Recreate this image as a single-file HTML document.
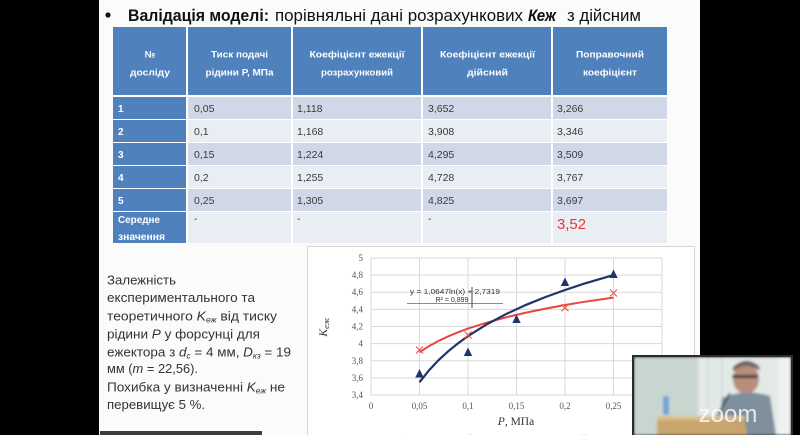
<!DOCTYPE html>
<html><head><meta charset="utf-8"><style>
html,body{margin:0;padding:0;background:#000;}
svg{display:block;}
</style></head><body>
<svg width="800" height="435" viewBox="0 0 800 435" xmlns="http://www.w3.org/2000/svg">
<defs>
<filter id="bl" x="-5%" y="-5%" width="110%" height="110%"><feGaussianBlur stdDeviation="1.2"/></filter>
<filter id="bl2"><feGaussianBlur stdDeviation="0.35"/></filter>
</defs>
<rect x="0" y="0" width="800" height="435" fill="#000"/>
<rect x="99" y="0" width="601" height="435" fill="#fbfbfb"/>

<!-- Title -->
<circle cx="108" cy="15" r="2.6" fill="#111"/>
<g font-family="Liberation Sans, sans-serif" font-size="16.5" fill="#111">
<text x="128" y="21" font-weight="bold" textLength="141" lengthAdjust="spacingAndGlyphs">Валідація моделі:</text>
<text x="275" y="21" textLength="248" lengthAdjust="spacingAndGlyphs">порівняльні дані розрахункових</text>
<text x="528" y="21" font-weight="bold" font-style="italic" textLength="28" lengthAdjust="spacingAndGlyphs">Кеж</text>
<text x="567" y="21" textLength="74" lengthAdjust="spacingAndGlyphs">з дійсним</text>
</g>

<!-- Table -->
<g filter="url(#bl2)">
<rect x="113" y="27" width="554" height="216" fill="#fff"/>
<rect x="113" y="27" width="73" height="68" fill="#4f81bd"/>
<rect x="188" y="27" width="103" height="68" fill="#4f81bd"/>
<rect x="293" y="27" width="128" height="68" fill="#4f81bd"/>
<rect x="423" y="27" width="128" height="68" fill="#4f81bd"/>
<rect x="553" y="27" width="114" height="68" fill="#4f81bd"/>
<rect x="113" y="97" width="73" height="22" fill="#4f81bd"/>
<rect x="113" y="120" width="73" height="22" fill="#4f81bd"/>
<rect x="113" y="143" width="73" height="22" fill="#4f81bd"/>
<rect x="113" y="166" width="73" height="22" fill="#4f81bd"/>
<rect x="113" y="189" width="73" height="22" fill="#4f81bd"/>
<rect x="113" y="212" width="73" height="31" fill="#4f81bd"/>
<g fill="#d0d8e8">
<rect x="188" y="97" width="103" height="22"/><rect x="293" y="97" width="128" height="22"/><rect x="423" y="97" width="128" height="22"/><rect x="553" y="97" width="114" height="22"/>
<rect x="188" y="143" width="103" height="22"/><rect x="293" y="143" width="128" height="22"/><rect x="423" y="143" width="128" height="22"/><rect x="553" y="143" width="114" height="22"/>
<rect x="188" y="189" width="103" height="22"/><rect x="293" y="189" width="128" height="22"/><rect x="423" y="189" width="128" height="22"/><rect x="553" y="189" width="114" height="22"/>
</g>
<g fill="#e9edf4">
<rect x="188" y="120" width="103" height="22"/><rect x="293" y="120" width="128" height="22"/><rect x="423" y="120" width="128" height="22"/><rect x="553" y="120" width="114" height="22"/>
<rect x="188" y="166" width="103" height="22"/><rect x="293" y="166" width="128" height="22"/><rect x="423" y="166" width="128" height="22"/><rect x="553" y="166" width="114" height="22"/>
<rect x="188" y="212" width="103" height="31"/><rect x="293" y="212" width="128" height="31"/><rect x="423" y="212" width="128" height="31"/><rect x="553" y="212" width="114" height="31"/>
</g>
<g font-family="Liberation Sans, sans-serif" font-size="9.5" font-weight="bold" fill="#fff" text-anchor="middle">
<text x="150" y="57.5">№</text>
<text x="150" y="75.5" textLength="40" lengthAdjust="spacingAndGlyphs">досліду</text>
<text x="239.5" y="57.5" textLength="57" lengthAdjust="spacingAndGlyphs">Тиск подачі</text>
<text x="239.5" y="75.5" textLength="68" lengthAdjust="spacingAndGlyphs">рідини Р, МПа</text>
<text x="357" y="57.5" textLength="95" lengthAdjust="spacingAndGlyphs">Коефіцієнт ежекції</text>
<text x="357" y="75.5" textLength="72" lengthAdjust="spacingAndGlyphs">розрахунковий</text>
<text x="487.5" y="57.5" textLength="95" lengthAdjust="spacingAndGlyphs">Коефіцієнт ежекції</text>
<text x="487.5" y="75.5" textLength="41" lengthAdjust="spacingAndGlyphs">дійсний</text>
<text x="610" y="57.5" textLength="68" lengthAdjust="spacingAndGlyphs">Поправочний</text>
<text x="610" y="75.5" textLength="54" lengthAdjust="spacingAndGlyphs">коефіцієнт</text>
</g>
<g font-family="Liberation Sans, sans-serif" font-size="10" font-weight="bold" fill="#fff">
<text x="118" y="112">1</text>
<text x="118" y="135">2</text>
<text x="118" y="158">3</text>
<text x="118" y="181">4</text>
<text x="118" y="204">5</text>
<text x="118" y="223" textLength="42" lengthAdjust="spacingAndGlyphs">Середне</text>
<text x="118" y="240" textLength="47" lengthAdjust="spacingAndGlyphs">значення</text>
</g>
<g font-family="Liberation Sans, sans-serif" font-size="10.5" fill="#3a3a3a">
<text x="194" y="112">0,05</text><text x="297" y="112">1,118</text><text x="428" y="112">3,652</text><text x="557" y="112">3,266</text>
<text x="194" y="135">0,1</text><text x="297" y="135">1,168</text><text x="428" y="135">3,908</text><text x="557" y="135">3,346</text>
<text x="194" y="158">0,15</text><text x="297" y="158">1,224</text><text x="428" y="158">4,295</text><text x="557" y="158">3,509</text>
<text x="194" y="181">0,2</text><text x="297" y="181">1,255</text><text x="428" y="181">4,728</text><text x="557" y="181">3,767</text>
<text x="194" y="204">0,25</text><text x="297" y="204">1,305</text><text x="428" y="204">4,825</text><text x="557" y="204">3,697</text>
<text x="194" y="222">-</text><text x="297" y="222">-</text><text x="428" y="222">-</text>
</g>
<text x="557" y="229" font-family="Liberation Sans, sans-serif" font-size="15" fill="#e53935" textLength="29" lengthAdjust="spacingAndGlyphs">3,52</text>
</g>

<!-- Paragraph -->
<g font-family="Liberation Sans, sans-serif" font-size="13" fill="#333">
<text x="107" y="284.5" textLength="69" lengthAdjust="spacingAndGlyphs">Залежність</text>
<text x="107" y="302" textLength="148" lengthAdjust="spacingAndGlyphs">експериментального та</text>
<text x="107" y="320.5" textLength="170" lengthAdjust="spacingAndGlyphs">теоретичного <tspan font-style="italic">K</tspan><tspan font-style="italic" font-size="8" dy="2">еж</tspan><tspan dy="-2"> від тиску</tspan></text>
<text x="107" y="338.5" textLength="153" lengthAdjust="spacingAndGlyphs">рідини <tspan font-style="italic">P</tspan> у форсунці для</text>
<text x="107" y="356.5" textLength="184" lengthAdjust="spacingAndGlyphs">ежектора з <tspan font-style="italic">d</tspan><tspan font-size="8" font-style="italic" dy="2">c</tspan><tspan dy="-2"> = 4 мм, </tspan><tspan font-style="italic">D</tspan><tspan font-size="8" font-style="italic" dy="2">кз</tspan><tspan dy="-2"> = 19</tspan></text>
<text x="107" y="373" textLength="91" lengthAdjust="spacingAndGlyphs">мм (<tspan font-style="italic">m</tspan> = 22,56).</text>
<text x="107" y="391.5" textLength="178" lengthAdjust="spacingAndGlyphs">Похибка у визначенні <tspan font-style="italic">K</tspan><tspan font-style="italic" font-size="8" dy="2">еж</tspan><tspan dy="-2"> не</tspan></text>
<text x="107" y="409" textLength="98" lengthAdjust="spacingAndGlyphs">перевищує 5 %.</text>
</g>
<rect x="100" y="431" width="162" height="4" fill="#3d3d3d"/>

<!-- Chart box -->
<rect x="307.5" y="246.5" width="387" height="195" fill="#fff" stroke="#d6d6d6" stroke-width="1"/>
<g stroke="#d9d9d9" stroke-width="1">
<line x1="371" y1="258" x2="662" y2="258"/>
<line x1="371" y1="275.1" x2="662" y2="275.1"/>
<line x1="371" y1="292.25" x2="662" y2="292.25"/>
<line x1="371" y1="309.4" x2="662" y2="309.4"/>
<line x1="371" y1="326.5" x2="662" y2="326.5"/>
<line x1="371" y1="343.6" x2="662" y2="343.6"/>
<line x1="371" y1="360.75" x2="662" y2="360.75"/>
<line x1="371" y1="377.9" x2="662" y2="377.9"/>
<line x1="371" y1="395" x2="662" y2="395"/>
<line x1="371" y1="258" x2="371" y2="395"/>
<line x1="419.5" y1="258" x2="419.5" y2="395"/>
<line x1="468" y1="258" x2="468" y2="395"/>
<line x1="516.5" y1="258" x2="516.5" y2="395"/>
<line x1="565" y1="258" x2="565" y2="395"/>
<line x1="613.5" y1="258" x2="613.5" y2="395"/>
<line x1="662" y1="258" x2="662" y2="395"/>
</g>
<g font-family="Liberation Serif, serif" font-size="9" fill="#555" text-anchor="end">
<text x="363" y="261">5</text>
<text x="363" y="278">4,8</text>
<text x="363" y="295">4,6</text>
<text x="363" y="312.5">4,4</text>
<text x="363" y="329.5">4,2</text>
<text x="363" y="346.5">4</text>
<text x="363" y="364">3,8</text>
<text x="363" y="381">3,6</text>
<text x="363" y="398">3,4</text>
</g>
<g font-family="Liberation Serif, serif" font-size="9" fill="#555" text-anchor="middle">
<text x="371" y="409">0</text>
<text x="419.5" y="409">0,05</text>
<text x="468" y="409">0,1</text>
<text x="516.5" y="409">0,15</text>
<text x="565" y="409">0,2</text>
<text x="613.5" y="409">0,25</text>
</g>
<text x="516" y="425" font-family="Liberation Serif, serif" font-size="11.5" fill="#333" text-anchor="middle"><tspan font-style="italic">P</tspan>, МПа</text>
<text transform="translate(327,327) rotate(-90)" font-family="Liberation Serif, serif" font-size="11.5" fill="#333" text-anchor="middle" font-style="italic">K<tspan font-size="8.5" dy="2">еж</tspan></text>

<g font-family="Liberation Sans, sans-serif" font-size="7.5" fill="#333" text-anchor="middle">
<text x="455" y="294" textLength="90" lengthAdjust="spacingAndGlyphs">y = 1,0647ln(x) + 2,7319</text>
<text x="452" y="302" textLength="33" lengthAdjust="spacingAndGlyphs">R² = 0,899</text>
</g>
<line x1="407" y1="303.5" x2="503" y2="303.5" stroke="#666" stroke-width="0.8"/>
<line x1="472" y1="287" x2="472" y2="308" stroke="#333" stroke-width="0.9"/>

<polyline fill="none" stroke="#e8473c" stroke-width="2" points="419.5,352.2 429.2,346.0 438.9,340.8 448.6,336.2 458.3,332.2 468,328.6 487.4,322.4 506.8,317.1 526.2,312.6 545.6,308.6 565,305.0 584.4,301.8 613.5,297.6"/>
<polyline fill="none" stroke="#1f3468" stroke-width="2.2" points="419.5,382.2 429.2,370.1 438.9,359.8 448.6,350.9 458.3,343.1 468,336.1 487.4,324.0 506.8,313.7 526.2,304.8 545.6,297.0 565,290.0 584.4,283.6 613.5,275.1"/>
<g fill="#1f3468">
<polygon points="419.5,369 415.3,377.5 423.7,377.5"/>
<polygon points="468,347.5 463.8,356 472.2,356"/>
<polygon points="516.5,314.5 512.3,323 520.7,323"/>
<polygon points="565,277.5 560.8,286 569.2,286"/>
<polygon points="613.5,269.5 609.3,278 617.7,278"/>
</g>
<g stroke="#ea5a50" stroke-width="1.2">
<path d="M416,346.5 L423,353.5 M423,346.5 L416,353.5"/>
<path d="M464.5,331.5 L471.5,338.5 M471.5,331.5 L464.5,338.5"/>
<path d="M561.5,304.2 L568.5,311.2 M568.5,304.2 L561.5,311.2"/>
<path d="M610,289.5 L617,296.5 M617,289.5 L610,296.5"/>
</g>
<g font-family="Liberation Serif, serif" font-size="11" fill="#444">
<text x="400" y="442" fill="#e8473c">✕</text>
<text x="412" y="442">Теоретичний</text>
<text x="478" y="442" fill="#1f3468">▲</text>
<text x="492" y="442">Експериментальний</text>
</g>
<rect x="700" y="0" width="100" height="435" fill="#000"/>

<g>
<rect x="632" y="355" width="161" height="80" fill="#2b2b2b"/>
<svg x="634" y="357" width="157" height="78" viewBox="634 357 157 78">
<g filter="url(#bl)">
<rect x="634" y="357" width="157" height="78" fill="#c9d6cf"/>
<rect x="698" y="357" width="93" height="78" fill="#e2e9e7"/>
<g stroke="#d3ddda" stroke-width="2"><line x1="708" y1="357" x2="708" y2="435"/><line x1="722" y1="357" x2="722" y2="435"/><line x1="780" y1="357" x2="780" y2="435"/></g>
<rect x="778" y="357" width="13" height="78" fill="#eef2f0"/>
<ellipse cx="746" cy="379" rx="13" ry="15" fill="#b88d7b"/>
<path d="M733,372 Q745,360 760,371 L759,366 Q746,355 733,367 Z" fill="#6e6560"/>
<rect x="732" y="375" width="26" height="3" fill="#3a3a3a"/>
<path d="M718,435 L722,398 Q745,388 770,396 L776,435 Z" fill="#7f8f9c"/>
<rect x="663" y="396" width="6" height="19" rx="2" fill="#6fa6d8"/>
<line x1="715" y1="420" x2="730" y2="393" stroke="#222" stroke-width="1.5"/>
<path d="M657,419 L745,421 L747,435 L657,435 Z" fill="#c9a56e"/>
<rect x="657" y="416" width="88" height="4" fill="#dcc08e"/>
</g>
<text x="728" y="422" font-family="Liberation Sans, sans-serif" font-size="24" fill="#fff" fill-opacity="0.8" text-anchor="middle">zoom</text>
</svg>
</g>
</svg>
</body></html>
